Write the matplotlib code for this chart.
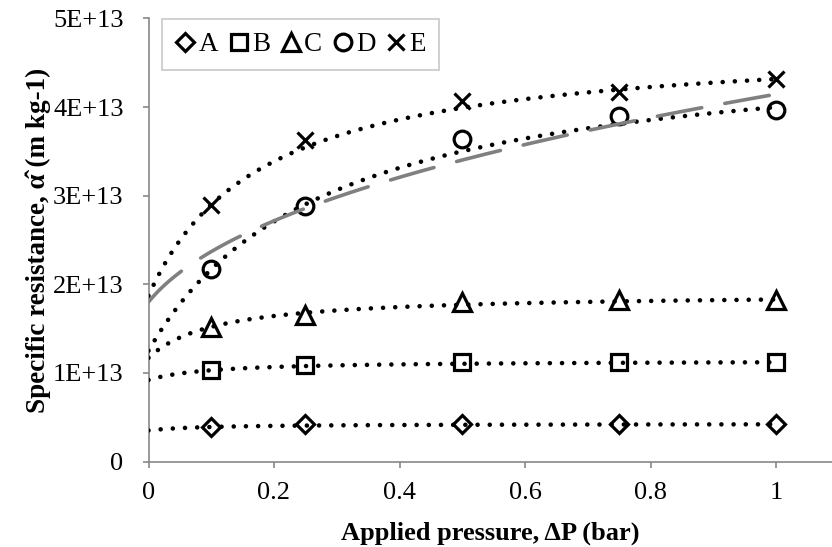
import numpy as np
import matplotlib
matplotlib.use('Agg')
import matplotlib.pyplot as plt
from matplotlib.lines import Line2D


# applied pressure (bar)
pressure = [0.1, 0.25, 0.5, 0.75, 1.0]

# specific resistance of each cake, in units of 1E+13 m/kg
labels = ['A', 'B', 'C', 'D', 'E']
res_a = [0.39, 0.42, 0.42, 0.42, 0.42]
res_b = [1.03, 1.09, 1.12, 1.12, 1.12]
res_c = [1.52, 1.65, 1.80, 1.82, 1.82]
res_d = [2.17, 2.88, 3.64, 3.90, 3.97]
res_e = [2.90, 3.63, 4.07, 4.17, 4.32]
markers = ['D', 's', '^', 'o', 'x']
marker_sizes = [9.5, 12, 12.5, 12, 12]

# saturation trend, alpha = c + a*P/(b+P)
trend_c = [0.35, 0.92, 1.17, 1.25, 1.87]
trend_a = [0.076, 0.22, 0.73, 3.53, 2.89]
trend_b = [0.091, 0.10, 0.109, 0.284, 0.181]

# compressibility model for D, alpha = c + k*((P+d)^n - d^n)
model_c = 1.80
model_k = 3.17
model_d = 0.04
model_n = 0.4

SCALE = 1e13
GREY_AXIS = '#878787'

plt.rcParams['font.family'] = ['Liberation Serif', 'DejaVu Serif']

fig = plt.figure(figsize=(8.32, 5.47), dpi=100)
ax = fig.add_axes([148.5 / 832, 1 - 461.5 / 547, (832 - 148.5) / 832, 443 / 547])

series = [res_a, res_b, res_c, res_d, res_e]
px = np.linspace(0, 1, 300)

for i, vals in enumerate(series):
    y = np.array(vals) * SCALE
    ax.plot(pressure, y, linestyle='none', marker=markers[i], ms=marker_sizes[i],
            mfc='none', mec='black', mew=2.3, zorder=3)
    fit = (trend_c[i] + trend_a[i] * px / (trend_b[i] + px)) * SCALE
    ax.plot(px, fit, color='black', lw=3.3, linestyle=(0, (0.01, 2.65)),
            dash_capstyle='round', zorder=4)

model = (model_c + model_k * ((px + model_d) ** model_n - model_d ** model_n)) * SCALE
ax.plot(px, model, color='#808080', lw=2.6, linestyle=(0, (12.5, 6.5)),
        dash_capstyle='round', zorder=5)

ax.set_xlim(0, (832 - 148.5) / 627.5)
ax.set_ylim(0, 5e13)
ax.set_xticks([0, 0.2, 0.4, 0.6, 0.8, 1.0])
ax.set_xticklabels(['0', '0.2', '0.4', '0.6', '0.8', '1'])
ax.set_yticks(np.arange(0, 6) * SCALE)
ax.set_yticklabels(['0', '1E+13', '2E+13', '3E+13', '4E+13', '5E+13'])

for side in ['top', 'right']:
    ax.spines[side].set_visible(False)
for side in ['left', 'bottom']:
    ax.spines[side].set_color(GREY_AXIS)
    ax.spines[side].set_linewidth(1.2)
ax.tick_params(axis='both', colors=GREY_AXIS, length=4, width=1.2,
               labelsize=19, labelcolor='black')
ax.tick_params(axis='x', pad=10.5)
ax.tick_params(axis='y', pad=14)

ax.set_xlabel('Applied pressure, ΔP (bar)', fontsize=19, fontweight='bold', labelpad=13)
ax.set_ylabel('Specific resistance, α\u0302 (m kg-1)', fontsize=19.5, fontweight='bold', labelpad=1)

handles = [Line2D([], [], linestyle='none', marker=markers[i], ms=marker_sizes[i],
                  mfc='none', mec='black', mew=2.3) for i in range(5)]
leg = ax.legend(handles, labels, loc='upper left', ncol=5,
                bbox_to_anchor=(162 / 832, 1 - 19 / 547), bbox_transform=fig.transFigure,
                borderaxespad=0, fontsize=19.5, frameon=True, fancybox=False,
                handlelength=0.75, handletextpad=0.12, columnspacing=0.38,
                borderpad=0.48)
leg.get_frame().set_edgecolor('#c0c0c0')
leg.get_frame().set_linewidth(1.3)

fig.savefig('out.png', dpi=100)
